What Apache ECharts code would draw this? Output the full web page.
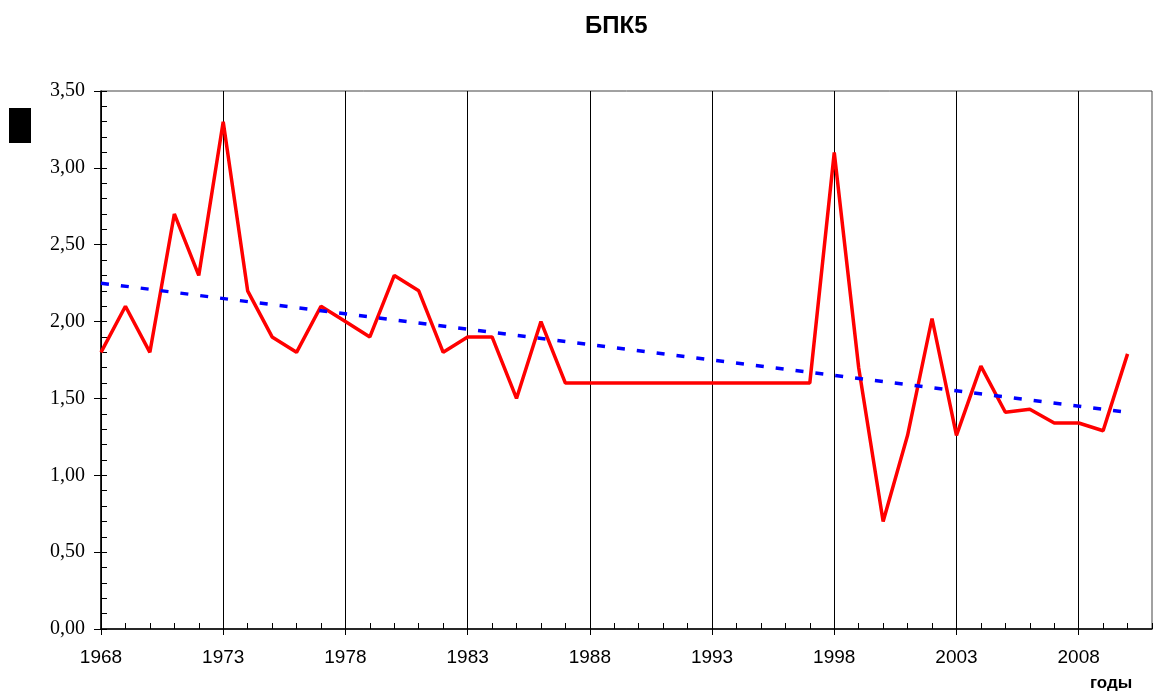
<!DOCTYPE html>
<html>
<head>
<meta charset="utf-8">
<title>БПК5</title>
<script src="https://cdn.jsdelivr.net/npm/echarts@6/dist/echarts.min.js"></script>
<style>
  html, body { margin: 0; padding: 0; background: #fff; }
  #chart { width: 1155px; height: 693px; }
</style>
</head>
<body>
<div id="chart"></div>
<script>
// годы (шкала идёт до 2011, данные до 2010)
const years = [
  '1968', '1969', '1970', '1971', '1972', '1973', '1974', '1975', '1976', '1977',
  '1978', '1979', '1980', '1981', '1982', '1983', '1984', '1985', '1986', '1987',
  '1988', '1989', '1990', '1991', '1992', '1993', '1994', '1995', '1996', '1997',
  '1998', '1999', '2000', '2001', '2002', '2003', '2004', '2005', '2006', '2007',
  '2008', '2009', '2010', '2011'
]
// подписанные годы на оси X
const tickYears = ['1968', '1973', '1978', '1983', '1988', '1993', '1998', '2003', '2008']
// БПК5 по годам 1968-2010
const bpk5 = [
  1.8, 2.1, 1.8, 2.7, 2.3, 3.3, 2.2, 1.9, 1.8, 2.1,
  2.0, 1.9, 2.3, 2.2, 1.8, 1.9, 1.9, 1.5, 2.0, 1.6,
  1.6, 1.6, 1.6, 1.6, 1.6, 1.6, 1.6, 1.6, 1.6, 1.6,
  3.1, 1.7, 0.7, 1.26, 2.02, 1.26, 1.71, 1.41, 1.43, 1.34,
  1.34, 1.29, 1.79
]
// линейный тренд
const trendYears = ['1968', '2010']
const trendValues = [2.25, 1.41]

const chart = echarts.init(document.getElementById('chart'))
const serif = 'Liberation Serif, Times New Roman, serif'
const narrow = 'Liberation Sans Narrow, Arial Narrow, Liberation Sans, sans-serif'
const isMajor = (i, v) => tickYears.indexOf(v) !== -1

chart.setOption({
  animation: false,
  backgroundColor: '#fff',
  title: {
    text: 'БПК5',
    left: 580,
    top: 9,
    textStyle: { fontFamily: 'Liberation Sans, Arial, sans-serif', fontWeight: 'bold', fontSize: 24, color: '#000' }
  },
  grid: { left: 101, right: 3, top: 91, bottom: 64, show: true, borderColor: '#444', borderWidth: 1 },
  xAxis: [
    {
      type: 'category',
      data: years,
      boundaryGap: false,
      position: 'bottom',
      axisLine: { lineStyle: { color: '#000', width: 1.5 } },
      axisTick: { show: true, interval: isMajor, length: 6, lineStyle: { color: '#000' } },
      axisLabel: { interval: isMajor, margin: 19, fontFamily: narrow, fontSize: 19, color: '#000' },
      splitLine: { show: true, interval: isMajor, lineStyle: { color: '#000', width: 1 } }
    },
    {
      // годовые засечки внутрь
      type: 'category',
      data: years,
      boundaryGap: false,
      position: 'bottom',
      axisLine: { show: false },
      axisTick: { show: true, inside: true, interval: 0, length: 6, lineStyle: { color: '#000' } },
      axisLabel: { show: false },
      splitLine: { show: false }
    }
  ],
  yAxis: [
    {
      type: 'value',
      min: 0,
      max: 3.5,
      interval: 0.5,
      position: 'left',
      axisLine: { show: true, lineStyle: { color: '#000', width: 1.5 } },
      axisTick: { show: true, length: 7, lineStyle: { color: '#000' } },
      axisLabel: {
        formatter: v => v.toFixed(2).replace('.', ','),
        margin: 16,
        fontFamily: serif,
        fontSize: 20,
        color: '#000'
      },
      splitLine: { show: false }
    },
    {
      type: 'value',
      min: 0,
      max: 3.5,
      interval: 0.5,
      position: 'left',
      axisLine: { show: false },
      axisTick: { show: true, inside: true, length: 6, lineStyle: { color: '#000' } },
      minorTick: { show: true, splitNumber: 5, length: 6, lineStyle: { color: '#000' } },
      axisLabel: { show: false },
      splitLine: { show: false }
    }
  ],
  graphic: [
    { type: 'rect', left: 9, top: 108, shape: { width: 22, height: 35 }, style: { fill: '#000' } },
    {
      type: 'text',
      left: 1090,
      top: 675,
      style: { text: 'годы', font: 'bold 17px Liberation Sans, Arial, sans-serif', fill: '#000' }
    }
  ],
  series: [
    {
      name: 'БПК5',
      type: 'line',
      data: bpk5,
      xAxisIndex: 0,
      yAxisIndex: 0,
      symbol: 'none',
      lineStyle: { color: '#ff0000', width: 3.5 },
      z: 3
    },
    {
      name: 'тренд',
      type: 'line',
      data: trendYears.map((y, i) => [y, trendValues[i]]),
      xAxisIndex: 0,
      yAxisIndex: 0,
      symbol: 'none',
      lineStyle: { color: '#0000ff', width: 3.5, type: [8, 12] },
      z: 4
    }
  ]
})
</script>
</body>
</html>
